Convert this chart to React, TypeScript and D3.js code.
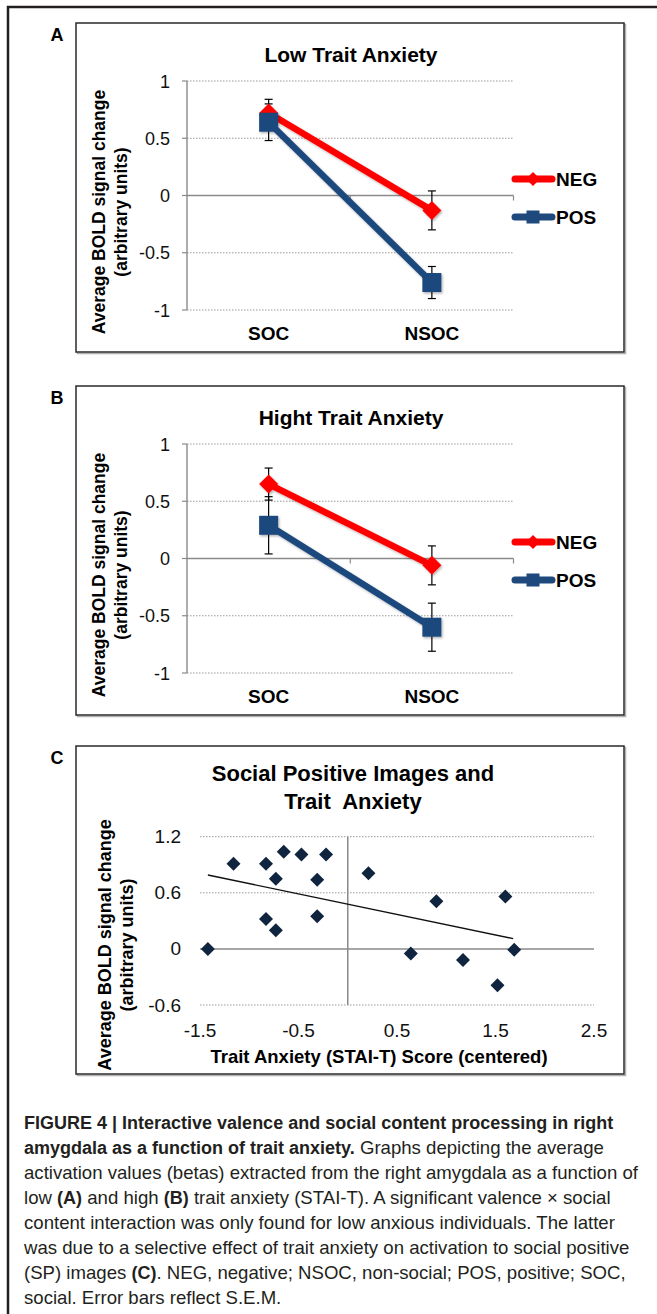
import React from "react";
import * as d3 from "d3";

// panels A / B : mean BOLD change per category
const categories = ["SOC", "NSOC"];
const lowNeg = [0.72, -0.13];
const lowNegErr = [0.12, 0.17];
const lowPos = [0.64, -0.76];
const lowPosErr = [0.16, 0.14];
const highNeg = [0.65, -0.06];
const highNegErr = [0.14, 0.17];
const highPos = [0.29, -0.6];
const highPosErr = [0.25, 0.21];
const lineTicks = [1, 0.5, 0, -0.5, -1];

// panel C : social positive images vs trait anxiety
const anxietyScore = [-1.42, -1.16, -0.83, -0.73, -0.65, -0.47, -0.22, -0.31, -0.83, -0.73, -0.31, 0.21, 0.9, 1.6, 0.64, 1.17, 1.52, 1.69];
const spSignal = [0.0, 0.91, 0.91, 0.75, 1.04, 1.01, 1.01, 0.74, 0.32, 0.2, 0.35, 0.81, 0.51, 0.56, -0.05, -0.12, -0.39, -0.01];
const trendX = [-1.42, 1.68];
const trendY = [0.79, 0.11];
const scatterXTicks = [-1.5, -0.5, 0.5, 1.5, 2.5];
const scatterYTicks = [1.2, 0.6, 0, -0.6];

const captionLines: [string, boolean][][] = [
  [["FIGURE 4 | Interactive valence and social content processing in right", true]],
  [["amygdala as a function of trait anxiety.", true], [" Graphs depicting the average", false]],
  [["activation values (betas) extracted from the right amygdala as a function of", false]],
  [["low ", false], ["(A)", true], [" and high ", false], ["(B)", true], [" trait anxiety (STAI-T). A significant valence \u00d7 social", false]],
  [["content interaction was only found for low anxious individuals. The latter", false]],
  [["was due to a selective effect of trait anxiety on activation to social positive", false]],
  [["(SP) images ", false], ["(C)", true], [". NEG, negative; NSOC, non-social; POS, positive; SOC,", false]],
  [["social. Error bars reflect S.E.M.", false]],
];

const FONT = "'Liberation Sans', Arial, sans-serif";
const NARROW = "'Liberation Sans Narrow', 'Liberation Sans', Arial, sans-serif";
const RED = "#ff0000";
const NAVY = "#1f497d";
const AXIS = "#8a8a8a";
const GRID = "#9a9a9a";

const diamond = (cx: number, cy: number, r: number) => `M${cx},${cy - r}L${cx + r},${cy}L${cx},${cy + r}L${cx - r},${cy}Z`;

function PanelBox({ top, height, label }: { top: number; height: number; label: string }) {
  return (
    <g>
      <rect x={77.5} y={top + 1.5} width={548} height={height} fill="none" stroke="#b0b0b0" strokeWidth={1.5} />
      <rect x={76} y={top} width={548} height={height} fill="#fff" stroke="#2a2a2a" strokeWidth={1.5} />
      <text x={57} y={top + 18} textAnchor="middle" fontFamily={FONT} fontWeight="bold" fontSize={18}>
        {label}
      </text>
    </g>
  );
}

type LineProps = {
  top: number;
  label: string;
  title: string;
  neg: number[];
  negErr: number[];
  pos: number[];
  posErr: number[];
};

function LinePanel({ top, label, title, neg, negErr, pos, posErr }: LineProps) {
  const x = d3.scaleBand<string>().domain(categories).range([187, 513.5]);
  const cx = (i: number) => (x(categories[i]) as number) + x.bandwidth() / 2;
  const y = d3.scaleLinear().domain([-1, 1]).range([top + 287, top + 58]);
  const line = d3
    .line<number>()
    .x((_, i) => cx(i))
    .y((v) => y(v));

  const series = [
    { name: "NEG", vals: neg, err: negErr, color: RED },
    { name: "POS", vals: pos, err: posErr, color: NAVY },
  ];
  const legendY = [top + 156, top + 194];
  const [x0, x1] = x.range();

  return (
    <g>
      <PanelBox top={top} height={329} label={label} />
      <text x={351} y={top + 39} textAnchor="middle" fontFamily={FONT} fontWeight="bold" fontSize={21}>
        {title}
      </text>
      {/* gridlines */}
      {lineTicks
        .filter((t) => t !== 0)
        .map((t) => (
          <line key={t} x1={x0} x2={x1} y1={y(t)} y2={y(t)} stroke={GRID} strokeWidth={1} strokeDasharray="1.5 1.5" />
        ))}
      {/* y axis */}
      <line x1={x0} x2={x0} y1={y(1)} y2={y(-1)} stroke={AXIS} strokeWidth={1.4} />
      {lineTicks.map((t) => (
        <g key={"t" + t}>
          <line x1={x0 - 5} x2={x0} y1={y(t)} y2={y(t)} stroke={AXIS} strokeWidth={1.2} />
          <text x={170} y={y(t) + 6.5} textAnchor="end" fontFamily={FONT} fontSize={18} fill="#111">
            {String(t)}
          </text>
        </g>
      ))}
      {/* zero line with category ticks */}
      <line x1={x0} x2={x1} y1={y(0)} y2={y(0)} stroke={AXIS} strokeWidth={1.4} />
      {[x0 + x.step(), x1].map((v) => (
        <line key={v} x1={v} x2={v} y1={y(0)} y2={y(0) + 5} stroke={AXIS} strokeWidth={1.2} />
      ))}
      {categories.map((c, i) => (
        <text key={c} x={cx(i)} y={top + 317} textAnchor="middle" fontFamily={FONT} fontWeight="bold" fontSize={19}>
          {c}
        </text>
      ))}
      {/* y title */}
      <g transform={`translate(99,${top + 189}) rotate(-90)`} fontFamily={FONT} fontWeight="bold" fontSize={17.5} textAnchor="middle">
        <text y={6}>Average BOLD signal change</text>
        <text y={28}>(arbitrary units)</text>
      </g>
      {/* error bars */}
      {series.map((s) =>
        s.vals.map((v, i) => (
          <g key={s.name + i} stroke="#000" strokeWidth={1.2}>
            <line x1={cx(i)} x2={cx(i)} y1={y(v + s.err[i])} y2={y(v - s.err[i])} />
            <line x1={cx(i) - 4} x2={cx(i) + 4} y1={y(v + s.err[i])} y2={y(v + s.err[i])} />
            <line x1={cx(i) - 4} x2={cx(i) + 4} y1={y(v - s.err[i])} y2={y(v - s.err[i])} />
          </g>
        ))
      )}
      {/* lines and markers */}
      {series.map((s) => (
        <g key={s.name} filter="url(#shadow)">
          <path d={line(s.vals) || ""} fill="none" stroke={s.color} strokeWidth={6.5} />
          {s.vals.map((v, i) =>
            s.name === "NEG" ? (
              <path key={i} d={diamond(cx(i), y(v), 9.5)} fill={s.color} />
            ) : (
              <rect key={i} x={cx(i) - 9.5} y={y(v) - 9.5} width={19} height={19} fill={s.color} />
            )
          )}
        </g>
      ))}
      {/* legend */}
      {series.map((s, k) => (
        <g key={"lg" + s.name}>
          <line x1={515} x2={552} y1={legendY[k]} y2={legendY[k]} stroke={s.color} strokeWidth={7} strokeLinecap="round" />
          {s.name === "NEG" ? (
            <path d={diamond(533, legendY[k], 7)} fill={s.color} />
          ) : (
            <rect x={526.5} y={legendY[k] - 6.5} width={13} height={13} fill={s.color} />
          )}
          <text x={556} y={legendY[k] + 7} fontFamily={FONT} fontWeight="bold" fontSize={19}>
            {s.name}
          </text>
        </g>
      ))}
    </g>
  );
}

function ScatterPanel({ top }: { top: number }) {
  const x = d3.scaleLinear().domain([-1.5, 2.5]).range([200, 594]);
  const y = d3.scaleLinear().domain([-0.6, 1.2]).range([top + 259, top + 90.7]);
  const trend = d3
    .line<number>()
    .x((v) => x(v))
    .y((_, i) => y(trendY[i]));

  return (
    <g>
      <PanelBox top={top} height={328} label="C" />
      <g fontFamily={FONT} fontWeight="bold" fontSize={22} textAnchor="middle">
        <text x={353} y={top + 35}>Social Positive Images and</text>
        <text x={353} y={top + 63} style={{ whiteSpace: "pre" }}>Trait  Anxiety</text>
      </g>
      {scatterYTicks
        .filter((t) => t !== 0)
        .map((t) => (
          <line key={t} x1={x(-1.5)} x2={x(2.5)} y1={y(t)} y2={y(t)} stroke={GRID} strokeWidth={1} strokeDasharray="1.5 1.5" />
        ))}
      <line x1={x(-1.5)} x2={x(2.5)} y1={y(0)} y2={y(0)} stroke={AXIS} strokeWidth={1.5} />
      <line x1={x(0)} x2={x(0)} y1={y(1.2)} y2={y(-0.6)} stroke={AXIS} strokeWidth={1.5} />
      {scatterYTicks.map((t) => (
        <text key={"y" + t} x={181} y={y(t) + 6.5} textAnchor="end" fontFamily={FONT} fontSize={19} fill="#111">
          {String(t)}
        </text>
      ))}
      {scatterXTicks.map((t) => (
        <text key={"x" + t} x={x(t)} y={top + 291} textAnchor="middle" fontFamily={FONT} fontSize={19} fill="#111">
          {String(t)}
        </text>
      ))}
      <text x={379} y={top + 317} textAnchor="middle" fontFamily={FONT} fontWeight="bold" fontSize={18.5}>
        Trait Anxiety (STAI-T) Score (centered)
      </text>
      <g transform={`translate(105,${top + 199}) rotate(-90)`} fontFamily={FONT} fontWeight="bold" fontSize={18} textAnchor="middle">
        <text y={6}>Average BOLD signal change</text>
        <text y={28}>(arbitrary units)</text>
      </g>
      {anxietyScore.map((v, i) => (
        <path key={i} d={diamond(x(v), y(spSignal[i]), 7)} fill="#0f243e" />
      ))}
      <path d={trend(trendX) || ""} fill="none" stroke="#111" strokeWidth={1.4} />
    </g>
  );
}

function Caption({ top }: { top: number }) {
  return (
    <g fill="#231f20">
      {captionLines.map((segs, k) => (
        <text key={k} x={24} y={top + k * 25} fontFamily={FONT} fontSize={18.6}>
          {segs.map(([t, b], j) =>
            b ? (
              <tspan key={j} fontFamily={NARROW} fontWeight="bold" fontSize={18}>
                {t}
              </tspan>
            ) : (
              <tspan key={j} style={{ whiteSpace: "pre" }}>
                {t}
              </tspan>
            )
          )}
        </text>
      ))}
    </g>
  );
}

export default function App() {
  return (
    <svg width={657} height={1314} style={{ position: "absolute", left: 0, top: 0, background: "#fff" }}>
      <defs>
        <filter id="shadow" x="-20%" y="-20%" width="140%" height="140%">
          <feDropShadow dx={1.2} dy={1.5} stdDeviation={1} floodColor="#000" floodOpacity={0.3} />
        </filter>
      </defs>
      <rect x={0} y={0} width={657} height={1314} fill="#fff" />
      <rect x={8} y={7} width={720} height={1400} fill="none" stroke="#231f20" strokeWidth={2.5} />
      <LinePanel top={23} label="A" title="Low Trait Anxiety" neg={lowNeg} negErr={lowNegErr} pos={lowPos} posErr={lowPosErr} />
      <LinePanel top={386} label="B" title="Hight Trait Anxiety" neg={highNeg} negErr={highNegErr} pos={highPos} posErr={highPosErr} />
      <ScatterPanel top={746} />
      <Caption top={1129} />
    </svg>
  );
}
